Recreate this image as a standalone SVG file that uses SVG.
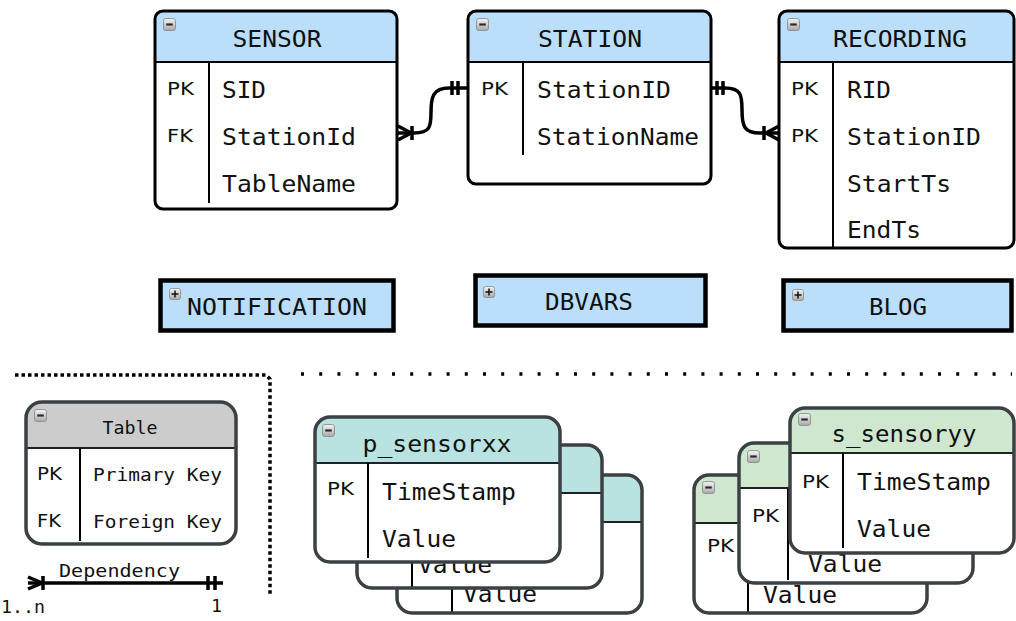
<svg xmlns="http://www.w3.org/2000/svg" xmlns:xlink="http://www.w3.org/1999/xlink" width="1016" height="621" viewBox="0 0 1016 621">
  <defs>
    <linearGradient id="iconFill" x1="0" y1="0" x2="0" y2="1">
      <stop offset="0" stop-color="#f4f4f4"/>
      <stop offset="1" stop-color="#a9a9a9"/>
    </linearGradient>
    <symbol id="minus" viewBox="0 0 12 12" width="13" height="13">
      <rect x="0.5" y="0.5" width="11" height="11" rx="2" fill="url(#iconFill)" stroke="#8a8a8a" stroke-width="0.8"/>
      <line x1="3" y1="6" x2="9" y2="6" stroke="#2a2a2a" stroke-width="2"/>
    </symbol>
    <symbol id="plus" viewBox="0 0 12 12" width="12" height="12">
      <rect x="0.5" y="0.5" width="11" height="11" rx="2" fill="url(#iconFill)" stroke="#8a8a8a" stroke-width="0.8"/>
      <line x1="2.5" y1="6" x2="9.5" y2="6" stroke="#1a1a1a" stroke-width="1.6"/>
      <line x1="6" y1="2.5" x2="6" y2="9.5" stroke="#1a1a1a" stroke-width="1.6"/>
    </symbol>
  </defs>
  <style>
    .bg { fill: #ffffff; }
    .edge { fill: none; stroke: #000; stroke-width: 3; }
    .edge2 { fill: none; stroke: #3b4045; stroke-width: 3.5; }
    .blue { fill: #bbdefa; }
    .teal { fill: #b9e3e1; }
    .green { fill: #cfe6cf; }
    .gray { fill: #cccccc; }
    .sep { stroke: #000; stroke-width: 2; }
    .sep2 { stroke: #1e2226; stroke-width: 2; }
    .mono { font-family: "DejaVu Sans Mono", "Liberation Mono", monospace; font-size: 23px; fill: #111; }
    .small { font-family: "DejaVu Sans Mono", "Liberation Mono", monospace; font-size: 17px; fill: #111; }
    .key { font-family: "DejaVu Sans", "Liberation Sans", sans-serif; font-size: 18px; fill: #111; }
    .keys { font-family: "DejaVu Sans", "Liberation Sans", sans-serif; font-size: 17px; fill: #111; }
    .mid { text-anchor: middle; }
    .box { fill: #bbdefa; stroke: #000; stroke-width: 4.5; }
    .link { fill: none; stroke: #000; stroke-width: 3.5; }
    .dots { fill: none; stroke: #000; stroke-width: 3.5; }
  </style>

  <!-- upper entities -->
  <g id="sensor">
    <rect class="bg" x="155" y="11" width="242" height="198" rx="8"/>
    <path class="blue" d="M155,62 V19 A8,8 0 0 1 163,11 H389 A8,8 0 0 1 397,19 V62 Z"/>
    <line class="sep" x1="155" y1="62" x2="397" y2="62" stroke-width="3"/>
    <line class="sep" x1="209" y1="62" x2="209" y2="203"/>
    <rect class="edge" x="155" y="11" width="242" height="198" rx="8"/>
    <use xlink:href="#minus" x="163" y="18"/>
    <text class="mono mid" x="277" y="47" textLength="89" lengthAdjust="spacingAndGlyphs">SENSOR</text>
    <text class="key" x="167" y="95" textLength="27" lengthAdjust="spacingAndGlyphs">PK</text>
    <text class="key" x="167" y="142" textLength="26" lengthAdjust="spacingAndGlyphs">FK</text>
    <text class="mono" x="222" y="98" textLength="44" lengthAdjust="spacingAndGlyphs">SID</text>
    <text class="mono" x="222" y="145" textLength="134" lengthAdjust="spacingAndGlyphs">StationId</text>
    <text class="mono" x="222" y="192" textLength="134" lengthAdjust="spacingAndGlyphs">TableName</text>
  </g>

  <g id="station">
    <rect class="bg" x="468" y="11" width="243" height="173" rx="8"/>
    <path class="blue" d="M468,62 V19 A8,8 0 0 1 476,11 H703 A8,8 0 0 1 711,19 V62 Z"/>
    <line class="sep" x1="468" y1="62" x2="711" y2="62" stroke-width="3"/>
    <line class="sep" x1="523" y1="62" x2="523" y2="155"/>
    <rect class="edge" x="468" y="11" width="243" height="173" rx="8"/>
    <use xlink:href="#minus" x="476" y="18"/>
    <text class="mono mid" x="590" y="47" textLength="104" lengthAdjust="spacingAndGlyphs">STATION</text>
    <text class="key" x="481" y="95" textLength="27" lengthAdjust="spacingAndGlyphs">PK</text>
    <text class="mono" x="537" y="98" textLength="134" lengthAdjust="spacingAndGlyphs">StationID</text>
    <text class="mono" x="537" y="145" textLength="162" lengthAdjust="spacingAndGlyphs">StationName</text>
  </g>

  <g id="recording">
    <rect class="bg" x="779" y="11" width="235" height="237" rx="8"/>
    <path class="blue" d="M779,62 V19 A8,8 0 0 1 787,11 H1006 A8,8 0 0 1 1014,19 V62 Z"/>
    <line class="sep" x1="779" y1="62" x2="1014" y2="62" stroke-width="3"/>
    <line class="sep" x1="833" y1="62" x2="833" y2="248"/>
    <rect class="edge" x="779" y="11" width="235" height="237" rx="8"/>
    <use xlink:href="#minus" x="787" y="18"/>
    <text class="mono mid" x="900" y="47" textLength="134" lengthAdjust="spacingAndGlyphs">RECORDING</text>
    <text class="key" x="791" y="95" textLength="27" lengthAdjust="spacingAndGlyphs">PK</text>
    <text class="key" x="791" y="142" textLength="27" lengthAdjust="spacingAndGlyphs">PK</text>
    <text class="mono" x="847" y="98" textLength="44" lengthAdjust="spacingAndGlyphs">RID</text>
    <text class="mono" x="847" y="145" textLength="134" lengthAdjust="spacingAndGlyphs">StationID</text>
    <text class="mono" x="847" y="192" textLength="104" lengthAdjust="spacingAndGlyphs">StartTs</text>
    <text class="mono" x="847" y="238" textLength="74" lengthAdjust="spacingAndGlyphs">EndTs</text>
  </g>

  <!-- relationships -->
  <g id="connectors">
    <!-- SENSOR.StationId (many) to STATION.StationID (one) -->
    <path class="link" d="M398,133 H414 C430,133 431,127 431,112 C431,97 433,88 449,88 H467"/>
    <path class="link" d="M398,126 L411,133 L398,140"/>
    <line class="link" x1="412" y1="126" x2="412" y2="140"/>
    <line class="link" x1="452" y1="81" x2="452" y2="95"/>
    <line class="link" x1="458" y1="81" x2="458" y2="95"/>
    <!-- STATION.StationID (one) to RECORDING.StationID (many) -->
    <path class="link" d="M712,88 H725 C741,88 742,95 742,110 C742,126 744,133 760,133 H779"/>
    <line class="link" x1="717" y1="81" x2="717" y2="95"/>
    <line class="link" x1="723" y1="81" x2="723" y2="95"/>
    <path class="link" d="M779,126 L766,133 L779,140"/>
    <line class="link" x1="764" y1="126" x2="764" y2="140"/>
  </g>

  <!-- collapsed entities -->
  <g id="notification">
    <rect class="box" x="160.5" y="280.5" width="233" height="50"/>
    <use xlink:href="#plus" x="169" y="288"/>
    <text class="mono" x="187" y="315" textLength="180" lengthAdjust="spacingAndGlyphs">NOTIFICATION</text>
  </g>
  <g id="dbvars">
    <rect class="box" x="475.5" y="275.5" width="230" height="50"/>
    <use xlink:href="#plus" x="483" y="286"/>
    <text class="mono mid" x="589" y="310" textLength="88" lengthAdjust="spacingAndGlyphs">DBVARS</text>
  </g>
  <g id="blog">
    <rect class="box" x="783.5" y="280.5" width="228" height="50"/>
    <use xlink:href="#plus" x="792" y="289"/>
    <text class="mono mid" x="898" y="315" textLength="58" lengthAdjust="spacingAndGlyphs">BLOG</text>
  </g>

  <!-- section dividers -->
  <path class="dots" d="M15,375 H266 L270,379 V596" stroke-dasharray="3.5 3"/>
  <path class="dots" d="M301,374 H1012" stroke-width="3" stroke-dasharray="3 15.2"/>

  <!-- legend -->
  <g id="legend-table">
    <rect class="bg" x="26" y="402" width="210" height="142" rx="16"/>
    <path class="gray" d="M26,448 V418 A16,16 0 0 1 42,402 H220 A16,16 0 0 1 236,418 V448 Z"/>
    <line class="sep2" x1="26" y1="448" x2="236" y2="448" stroke-width="3"/>
    <line class="sep" x1="80" y1="448" x2="80" y2="541"/>
    <rect class="edge2" x="26" y="402" width="210" height="142" rx="16"/>
    <use xlink:href="#minus" x="34" y="409"/>
    <text class="small mid" x="130" y="434" textLength="55" lengthAdjust="spacingAndGlyphs">Table</text>
    <text class="keys" x="37" y="480" textLength="25" lengthAdjust="spacingAndGlyphs">PK</text>
    <text class="keys" x="37" y="527" textLength="24" lengthAdjust="spacingAndGlyphs">FK</text>
    <text class="small" x="93" y="481" textLength="129" lengthAdjust="spacingAndGlyphs">Primary Key</text>
    <text class="small" x="93" y="528" textLength="129" lengthAdjust="spacingAndGlyphs">Foreign Key</text>
  </g>
  <g id="legend-dependency">
    <line class="link" x1="28" y1="583" x2="223" y2="583"/>
    <path class="link" d="M28,577 L42,583 L28,589"/>
    <line class="link" x1="43" y1="576" x2="43" y2="590"/>
    <line class="link" x1="208" y1="576" x2="208" y2="590"/>
    <line class="link" x1="215" y1="576" x2="215" y2="590"/>
    <text class="small" x="59" y="577" textLength="121" lengthAdjust="spacingAndGlyphs">Dependency</text>
    <text class="small" x="1" y="613" textLength="44" lengthAdjust="spacingAndGlyphs">1..n</text>
    <text class="small" x="211" y="612" textLength="11" lengthAdjust="spacingAndGlyphs">1</text>
  </g>

  <!-- per-sensor tables: p_ stack -->
  <g id="p-sensor-3">
    <rect class="bg" x="397" y="475" width="245" height="138" rx="15"/>
    <path class="teal" d="M397,522 V490 A15,15 0 0 1 412,475 H627 A15,15 0 0 1 642,490 V522 Z"/>
    <line class="sep2" x1="397" y1="522" x2="642" y2="522" stroke-width="3"/>
    <line class="sep" x1="452" y1="522" x2="452" y2="613"/>
    <rect class="edge2" x="397" y="475" width="245" height="138" rx="15"/>
    <text class="mono" x="463" y="602" textLength="74" lengthAdjust="spacingAndGlyphs">Value</text>
  </g>
  <g id="p-sensor-2">
    <rect class="bg" x="357" y="445" width="245" height="143" rx="15"/>
    <path class="teal" d="M357,493 V460 A15,15 0 0 1 372,445 H587 A15,15 0 0 1 602,460 V493 Z"/>
    <line class="sep2" x1="357" y1="493" x2="602" y2="493" stroke-width="3"/>
    <line class="sep" x1="412" y1="493" x2="412" y2="588"/>
    <rect class="edge2" x="357" y="445" width="245" height="143" rx="15"/>
    <text class="mono" x="418" y="573" textLength="74" lengthAdjust="spacingAndGlyphs">Value</text>
  </g>
  <g id="p-sensorxx">
    <rect class="bg" x="315" y="417" width="245" height="145" rx="15"/>
    <path class="teal" d="M315,463 V432 A15,15 0 0 1 330,417 H545 A15,15 0 0 1 560,432 V463 Z"/>
    <line class="sep2" x1="315" y1="463" x2="560" y2="463" stroke-width="3"/>
    <line class="sep" x1="368" y1="463" x2="368" y2="558"/>
    <rect class="edge2" x="315" y="417" width="245" height="145" rx="15"/>
    <use xlink:href="#minus" x="322" y="424"/>
    <text class="mono mid" x="437" y="452" textLength="149" lengthAdjust="spacingAndGlyphs">p_sensorxx</text>
    <text class="key" x="327" y="495" textLength="27" lengthAdjust="spacingAndGlyphs">PK</text>
    <text class="mono" x="382" y="500" textLength="134" lengthAdjust="spacingAndGlyphs">TimeStamp</text>
    <text class="mono" x="382" y="547" textLength="74" lengthAdjust="spacingAndGlyphs">Value</text>
  </g>

  <!-- per-sensor tables: s_ stack -->
  <g id="s-sensor-3">
    <rect class="bg" x="694" y="475" width="233" height="138" rx="15"/>
    <path class="green" d="M694,523 V490 A15,15 0 0 1 709,475 H912 A15,15 0 0 1 927,490 V523 Z"/>
    <line class="sep2" x1="694" y1="523" x2="927" y2="523" stroke-width="3"/>
    <line class="sep" x1="748" y1="523" x2="748" y2="613"/>
    <rect class="edge2" x="694" y="475" width="233" height="138" rx="15"/>
    <use xlink:href="#minus" x="702" y="481"/>
    <text class="key" x="707" y="552" textLength="27" lengthAdjust="spacingAndGlyphs">PK</text>
    <text class="mono" x="763" y="603" textLength="74" lengthAdjust="spacingAndGlyphs">Value</text>
  </g>
  <g id="s-sensor-2">
    <rect class="bg" x="739" y="443" width="234" height="140" rx="15"/>
    <path class="green" d="M739,488 V458 A15,15 0 0 1 754,443 H958 A15,15 0 0 1 973,458 V488 Z"/>
    <line class="sep2" x1="739" y1="488" x2="973" y2="488" stroke-width="3"/>
    <line class="sep" x1="788" y1="488" x2="788" y2="580"/>
    <rect class="edge2" x="739" y="443" width="234" height="140" rx="15"/>
    <use xlink:href="#minus" x="747" y="450"/>
    <text class="key" x="752" y="522" textLength="27" lengthAdjust="spacingAndGlyphs">PK</text>
    <text class="mono" x="808" y="572" textLength="74" lengthAdjust="spacingAndGlyphs">Value</text>
  </g>
  <g id="s-sensoryy">
    <rect class="bg" x="790" y="408" width="224" height="145" rx="15"/>
    <path class="green" d="M790,453 V423 A15,15 0 0 1 805,408 H999 A15,15 0 0 1 1014,423 V453 Z"/>
    <line class="sep2" x1="790" y1="453" x2="1014" y2="453" stroke-width="3"/>
    <line class="sep" x1="843" y1="453" x2="843" y2="548"/>
    <rect class="edge2" x="790" y="408" width="224" height="145" rx="15"/>
    <use xlink:href="#minus" x="798" y="413"/>
    <text class="mono mid" x="904" y="442" textLength="145" lengthAdjust="spacingAndGlyphs">s_sensoryy</text>
    <text class="key" x="802" y="488" textLength="27" lengthAdjust="spacingAndGlyphs">PK</text>
    <text class="mono" x="857" y="490" textLength="134" lengthAdjust="spacingAndGlyphs">TimeStamp</text>
    <text class="mono" x="857" y="537" textLength="74" lengthAdjust="spacingAndGlyphs">Value</text>
  </g>
</svg>
